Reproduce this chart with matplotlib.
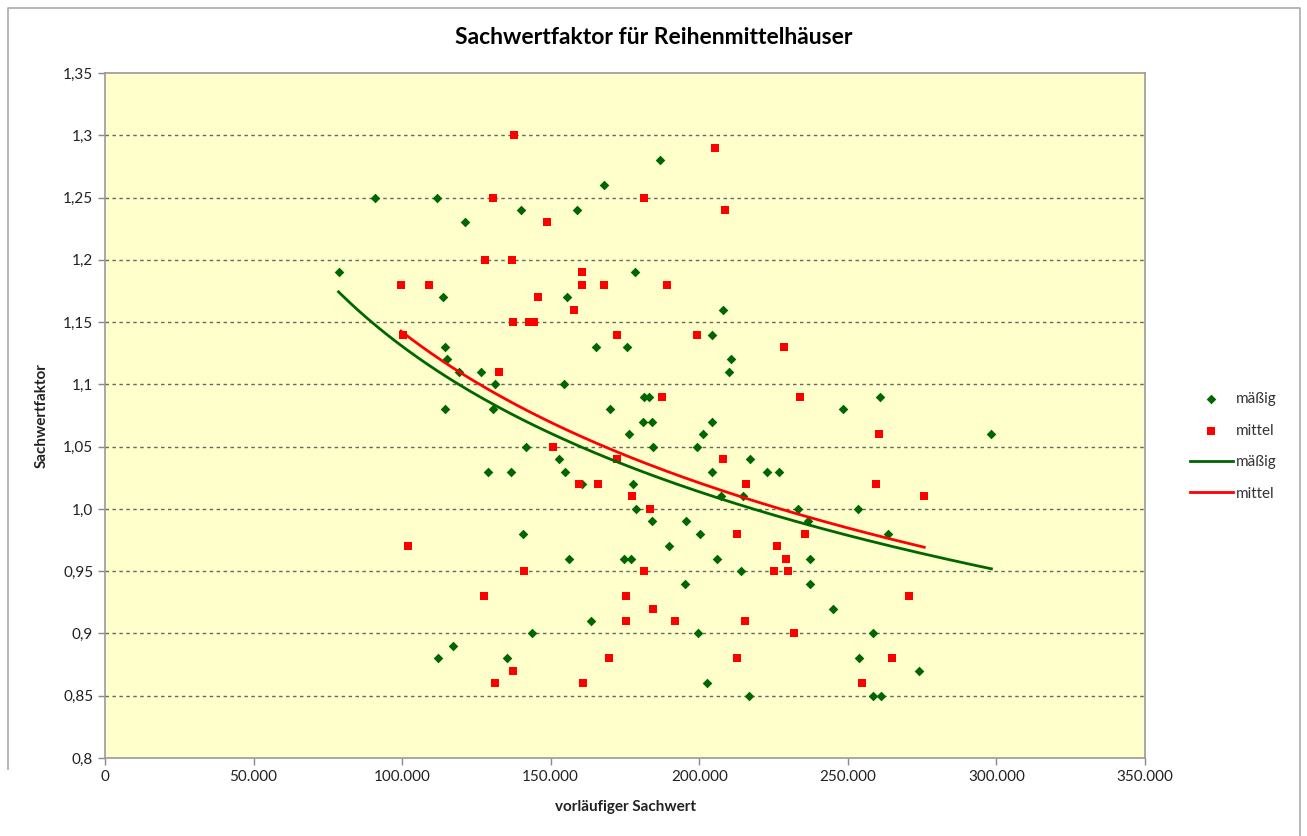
import numpy as np
import matplotlib
matplotlib.use("Agg")
import matplotlib.pyplot as plt
from matplotlib.ticker import FixedLocator
from matplotlib.lines import Line2D

plt.rcParams['font.family'] = ['Lato', 'DejaVu Sans']

# mäßig (grüne Rauten)
maessig_x = [78600, 91000, 111700, 121100, 139900, 158900, 113900, 155600, 114500, 165400,
             186700, 167800, 178300, 207900, 204300, 175700, 210700, 115100, 119300, 126700,
             131200, 154500, 114500, 130500, 141600, 152800, 128800, 136700, 154800, 160600,
             140800, 209900, 181500, 183200, 260800, 170000, 248500, 181100, 184100, 204200,
             176300, 201200, 184500, 199200, 216900, 204400, 222700, 226900, 177600, 207300,
             214600, 178800, 233100, 253300, 184100, 195600, 236700, 200400, 263400, 189700,
             156100, 174700, 177000, 206000, 237400, 214100, 195300, 237100, 245100, 163400,
             143800, 199500, 258300, 117100, 112000, 135300, 253600, 273900, 202600, 216700,
             258600, 261000, 298300]
maessig_y = [1.19, 1.25, 1.25, 1.23, 1.24, 1.24, 1.17, 1.17, 1.13, 1.13,
             1.28, 1.26, 1.19, 1.16, 1.14, 1.13, 1.12, 1.12, 1.11, 1.11,
             1.10, 1.10, 1.08, 1.08, 1.05, 1.04, 1.03, 1.03, 1.03, 1.02,
             0.98, 1.11, 1.09, 1.09, 1.09, 1.08, 1.08, 1.07, 1.07, 1.07,
             1.06, 1.06, 1.05, 1.05, 1.04, 1.03, 1.03, 1.03, 1.02, 1.01,
             1.01, 1.00, 1.00, 1.00, 0.99, 0.99, 0.99, 0.98, 0.98, 0.97,
             0.96, 0.96, 0.96, 0.96, 0.96, 0.95, 0.94, 0.94, 0.92, 0.91,
             0.90, 0.90, 0.90, 0.89, 0.88, 0.88, 0.88, 0.87, 0.86, 0.85,
             0.85, 0.85, 1.06]

# mittel (rote Quadrate)
mittel_x = [137700, 205400, 130700, 181300, 208500, 148900, 127900, 136900, 160400, 160600,
            99600, 109100, 168000, 189100, 145700, 157800, 137400, 142700, 144400, 100400,
            172400, 199200, 228600, 132700, 187600, 233800, 260500, 150900, 172400, 208000,
            159500, 165900, 215700, 259500, 177400, 275700, 183300, 212700, 235400, 102100,
            226300, 229100, 141000, 181300, 225100, 230000, 127700, 175400, 270500, 184500,
            175400, 191800, 215500, 232000, 169700, 212700, 264900, 137300, 131400, 161000,
            254600]
mittel_y = [1.30, 1.29, 1.25, 1.25, 1.24, 1.23, 1.20, 1.20, 1.19, 1.18,
            1.18, 1.18, 1.18, 1.18, 1.17, 1.16, 1.15, 1.15, 1.15, 1.14,
            1.14, 1.14, 1.13, 1.11, 1.09, 1.09, 1.06, 1.05, 1.04, 1.04,
            1.02, 1.02, 1.02, 1.02, 1.01, 1.01, 1.00, 0.98, 0.98, 0.97,
            0.97, 0.96, 0.95, 0.95, 0.95, 0.95, 0.93, 0.93, 0.93, 0.92,
            0.91, 0.91, 0.91, 0.90, 0.88, 0.88, 0.88, 0.87, 0.86, 0.86,
            0.86]

x_ticks = [0, 50000, 100000, 150000, 200000, 250000, 300000, 350000]
x_labels = ["0", "50.000", "100.000", "150.000", "200.000", "250.000", "300.000", "350.000"]
y_ticks = [0.8, 0.85, 0.9, 0.95, 1.0, 1.05, 1.1, 1.15, 1.2, 1.25, 1.3, 1.35]
y_labels = ["0,8", "0,85", "0,9", "0,95", "1,0", "1,05", "1,1", "1,15", "1,2", "1,25", "1,3", "1,35"]

gruen = "#006600"
rot = "#FF0000"


def potenz_trend(x, y):
    # Potenz-Trendlinie wie in Excel: y = a * x^b
    b, ln_a = np.polyfit(np.log(x), np.log(y), 1)
    xs = np.linspace(min(x), max(x), 200)
    return xs, np.exp(ln_a) * xs ** b


fig = plt.figure(figsize=(13.07, 8.36), dpi=100)
ax = fig.add_axes([0.0803, 0.0933, 0.7958, 0.8194])
ax.set_facecolor("#FFFFCC")

ax.scatter(maessig_x, maessig_y, marker="D", s=24, color=gruen, zorder=3, label="mäßig", linewidths=0)
ax.scatter(mittel_x, mittel_y, marker="s", s=28, color=rot, zorder=3, label="mittel", linewidths=0)

tx, ty = potenz_trend(maessig_x, maessig_y)
ax.plot(tx, ty, color=gruen, lw=2, zorder=4, label="mäßig")
tx, ty = potenz_trend(mittel_x, mittel_y)
ax.plot(tx, ty, color=rot, lw=2, zorder=4, label="mittel")

ax.set_xlim(0, 350000)
ax.set_ylim(0.8, 1.35)
ax.xaxis.set_major_locator(FixedLocator(x_ticks))
ax.set_xticklabels(x_labels)
ax.yaxis.set_major_locator(FixedLocator(y_ticks))
ax.set_yticklabels(y_labels)
ax.tick_params(axis="both", labelsize=11, length=5, color="#888888", width=1)
for lab in ax.get_xticklabels() + ax.get_yticklabels():
    lab.set_color("#222222")

for v in y_ticks[1:-1]:
    ax.axhline(v, color="#666666", lw=1, ls=(0, (2.5, 2.5)), zorder=1)

for s in ax.spines.values():
    s.set_color("#999999")
    s.set_linewidth(1.2)

ax.set_xlabel("vorläufiger Sachwert", fontsize=11, fontweight="bold", color="#222222", labelpad=12)
ax.set_ylabel("Sachwertfaktor", fontsize=11, fontweight="bold", color="#222222", labelpad=10)
fig.suptitle("Sachwertfaktor für Reihenmittelhäuser", fontsize=16.5, fontweight="bold", y=0.968)

leg = ax.legend(loc="center left", bbox_to_anchor=(1.03, 0.455), frameon=False,
                fontsize=11, handlelength=2.8, labelspacing=1.15, handletextpad=0.2)
for t in leg.get_texts():
    t.set_color("#333333")

# Rahmen um das Diagramm
fig.add_artist(Line2D([8 / 1307, 8 / 1307, 1300 / 1307, 1300 / 1307], [0.08, 1 - 8 / 836, 1 - 8 / 836, 0],
                      transform=fig.transFigure, color="#AAAAAA", lw=1.2))

fig.savefig("out.png", dpi=100)
